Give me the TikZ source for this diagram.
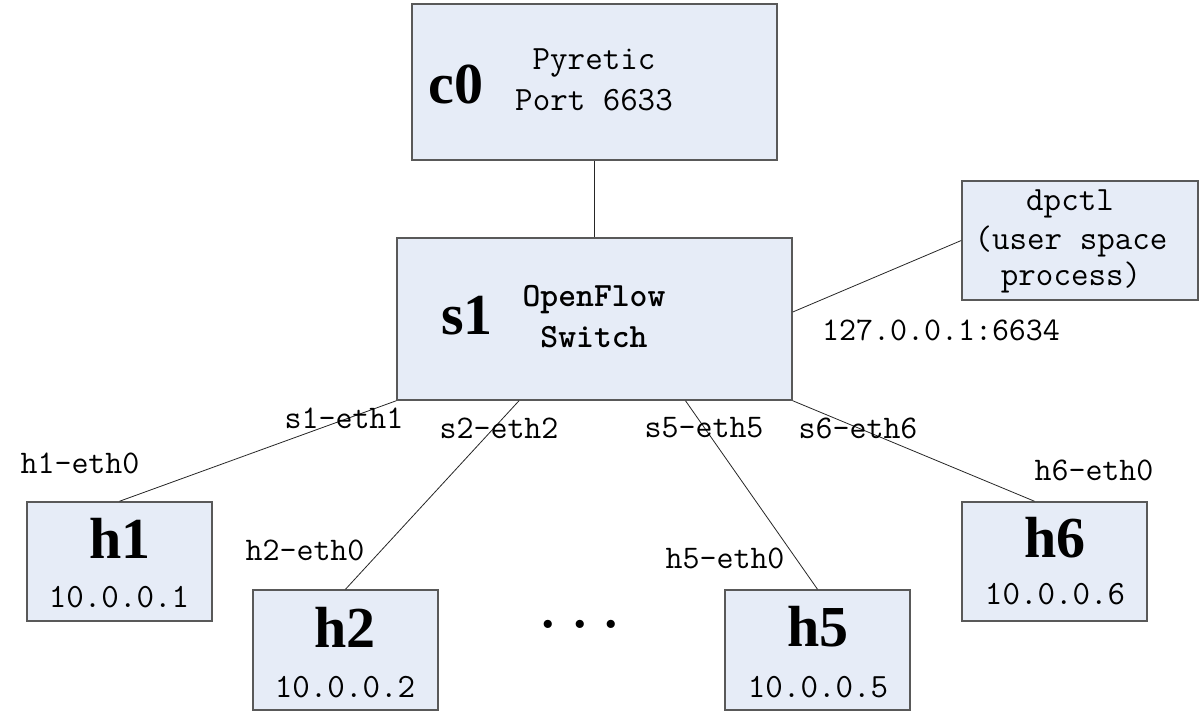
\documentclass[tikz,border=0pt]{standalone}
\usepackage{fontspec}
\setmainfont{Liberation Serif}
\newfontfamily\bigserif{Liberation Serif}
\definecolor{boxfill}{RGB}{230,236,247}
\definecolor{boxline}{RGB}{89,89,89}
\tikzset{
  box/.style={draw=boxline, fill=boxfill, line width=1.5pt, inner sep=0pt, anchor=center},
  conn/.style={draw=black!85, line width=0.8pt},
  txt/.style={inner sep=0pt, font=\fontsize{34}{38}\selectfont\ttfamily},
  txtb/.style={inner sep=0pt, font=\fontsize{34}{38}\selectfont\ttfamily\bfseries},
  big/.style={inner sep=0pt, font=\fontsize{58}{60}\selectfont\bigserif\bfseries},
  lbl/.style={inner sep=0pt, font=\fontsize{33}{38}\selectfont\ttfamily}
}
\begin{document}
\begin{tikzpicture}[x=1pt,y=-1pt]
\useasboundingbox (0,0) rectangle (1204,715);
% boxes
\node[box, minimum width=365pt, minimum height=156pt] (c0) at (594.5,82) {};
\node[box, minimum width=395pt, minimum height=162pt] (s1) at (594.5,319) {};
\node[box, minimum width=236pt, minimum height=119pt] (dpctl) at (1080,240.5) {};
\node[box, minimum width=185pt, minimum height=119pt] (h1) at (119.5,561.5) {};
\node[box, minimum width=185pt, minimum height=120pt] (h2) at (345.5,650) {};
\node[box, minimum width=185pt, minimum height=120pt] (h5) at (817.5,650) {};
\node[box, minimum width=185pt, minimum height=119pt] (h6) at (1054.5,561.5) {};
% connectors
\draw[conn] (c0.south) -- (s1.north);
\draw[conn] ([yshift=7pt]s1.east) -- (dpctl.west);
\draw[conn] (h1.north) -- (s1.south west);
\draw[conn] (h2.north) -- ([xshift=-75.5pt]s1.south);
\draw[conn] (h5.north) -- ([xshift=91pt]s1.south);
\draw[conn] ([xshift=-20pt]h6.north) -- (s1.south east);
% box texts
\node[big] (c0t) at (456,84) {c0};
\node[txt] (c0a) at (594,63) {Pyretic};
\node[txt] (c0b) at (594,100) {Port 6633};
\node[big] (s1t) at (467,316) {s1};
\node[txtb] (s1a) at (594,300) {OpenFlow};
\node[txtb] (s1b) at (594,337) {Switch};
\node[txt] (d1) at (1070,204) {dpctl};
\node[txt] (d2) at (1071,241) {(user space};
\node[txt] (d3) at (1071,277) {process)};
\node[big] (h1t) at (120,538) {h1};
\node[txt] (h1a) at (119,597) {10.0.0.1};
\node[big] (h2t) at (345,627) {h2};
\node[txt] (h2a) at (345,687) {10.0.0.2};
\node[big] (h5t) at (818,627) {h5};
\node[txt] (h5a) at (818,687) {10.0.0.5};
\node[big] (h6t) at (1055,538) {h6};
\node[txt] (h6a) at (1055,594) {10.0.0.6};
% interface labels
\node[lbl] (l1) at (80,463) {h1-eth0};
\node[lbl] (l2) at (344,418) {s1-eth1};
\node[lbl] (l3) at (499,428) {s2-eth2};
\node[lbl] (l4) at (704,428) {s5-eth5};
\node[lbl] (l5) at (858,428) {s6-eth6};
\node[lbl] (l6) at (1094,470) {h6-eth0};
\node[lbl] (l7) at (305,550) {h2-eth0};
\node[lbl] (l8) at (725,558) {h5-eth0};
\node[lbl] (l9) at (941,330) {127.0.0.1:6634};
\node[inner sep=0pt, font=\fontsize{60}{60}\selectfont\ttfamily\bfseries] (dots) at (580,624) {...};
\end{tikzpicture}
\end{document}
